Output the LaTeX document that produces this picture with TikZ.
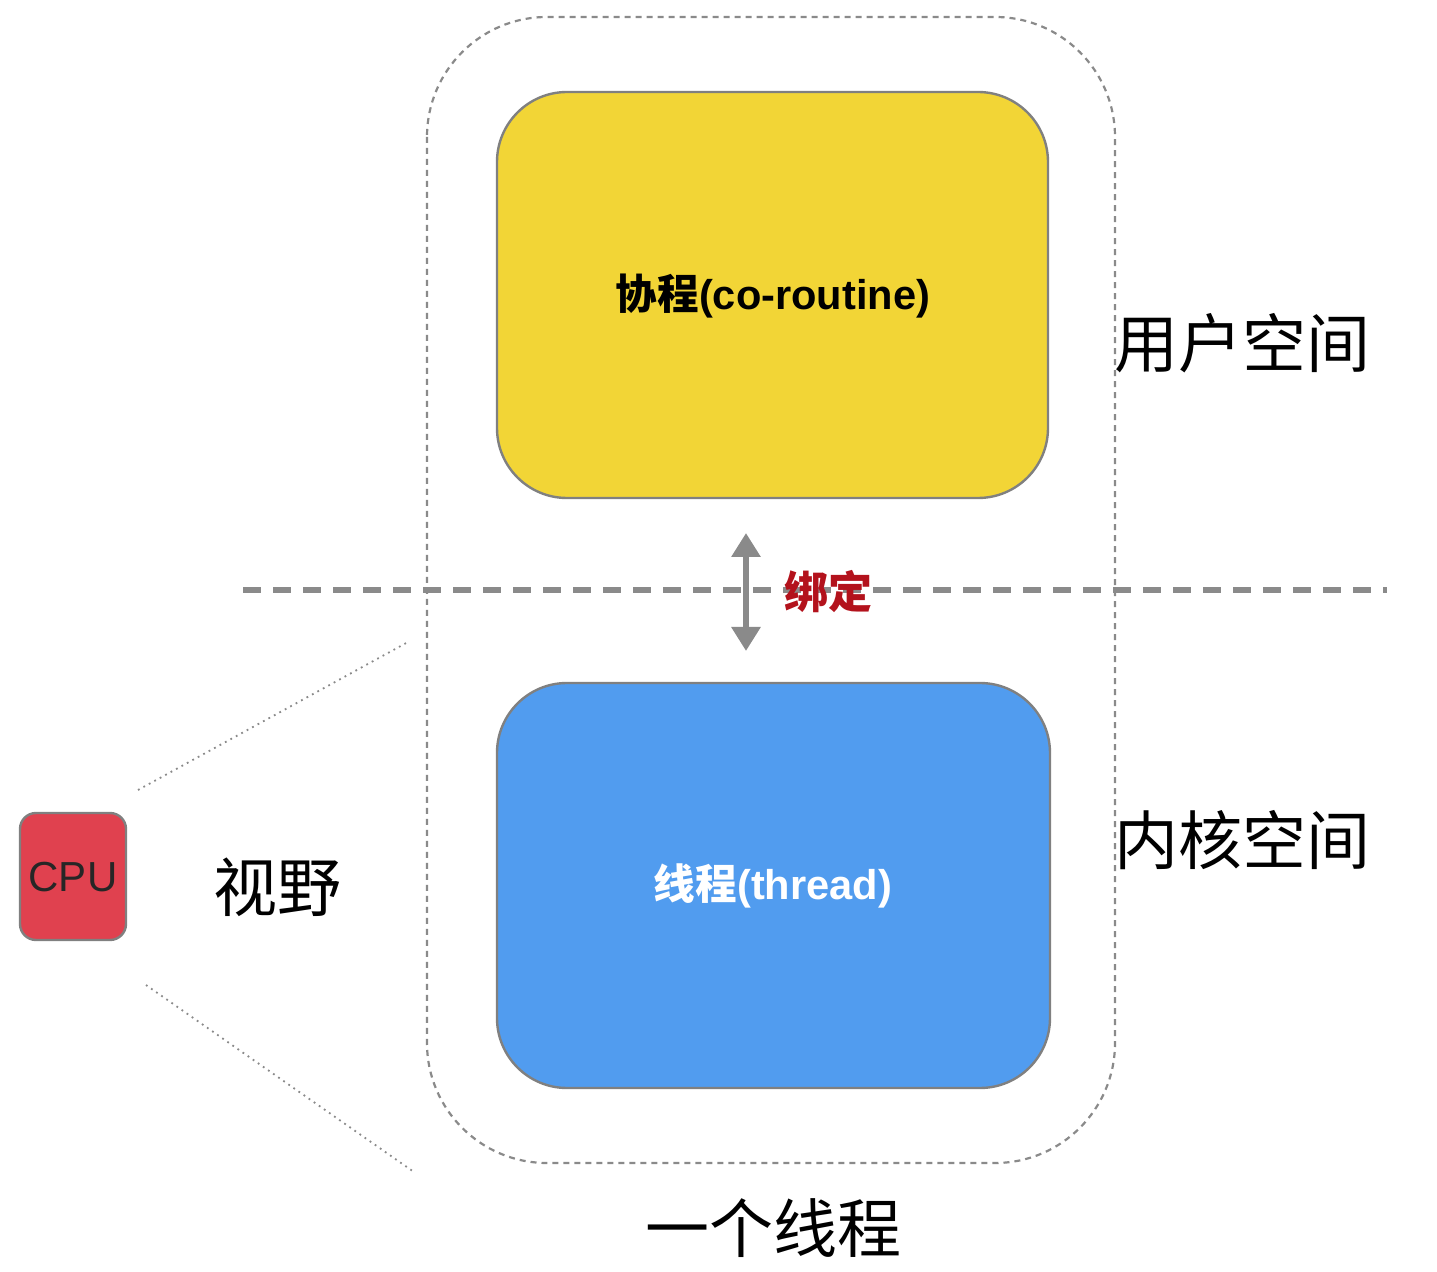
\documentclass[tikz,border=0pt]{standalone}
\usepackage{fontspec}
\setmainfont{Liberation Sans}
\newfontfamily\cjk{Noto Sans CJK SC}
\usetikzlibrary{arrows.meta}
\definecolor{boxyellow}{HTML}{F2D536}
\definecolor{boxblue}{HTML}{519CEF}
\definecolor{cpured}{HTML}{E0414F}
\definecolor{edgegray}{HTML}{808080}
\definecolor{linegray}{HTML}{8A8A8A}
\definecolor{bindred}{HTML}{B3121C}
\tikzset{
  bigbox/.style={draw=edgegray, line width=1.2pt, rounded corners=35pt},
  sidelabel/.style={font=\cjk\fontsize{32}{36}\selectfont, inner sep=0pt},
  boxlabel/.style={font=\bfseries\fontsize{20.8}{24}\selectfont, inner sep=0pt},
}
\begin{document}
\begin{tikzpicture}[x=0.5pt,y=-0.5pt]
\useasboundingbox (0,0) rectangle (1437,1272);
% outer thread boundary
\draw[linegray, line width=1.1pt, dash pattern=on 3pt off 2.5pt, rounded corners=60pt] (427,17) rectangle (1115,1163);
% horizontal divider
\draw[linegray, line width=2.6pt, dash pattern=on 9pt off 6pt] (243,590) -- (1387,590);
% boxes
\draw[bigbox, fill=boxyellow] (497,92) rectangle (1048,498);
\node[boxlabel] (co) at (773,296) {{\cjk\bfseries 协程}(co-routine)};
\draw[bigbox, fill=boxblue] (497,683) rectangle (1050,1088);
\node[boxlabel, text=white] (th) at (773,886) {{\cjk\bfseries 线程}(thread)};
% binding arrow
\coordinate (at) at (746,533);
\coordinate (ab) at (746,651);
\draw[linegray, line width=3pt, {Triangle[width=14pt,length=12pt]}-{Triangle[width=14pt,length=12pt]}] (at) -- (ab);
\node[font=\cjk\fontsize{22}{26}\selectfont, text=bindred, inner sep=0pt] (bind) at (828,592) {\textbf{绑定}};
% side labels
\node[sidelabel] (user) at (1242,343) {用户空间};
\node[sidelabel] (kern) at (1242,840) {内核空间};
\node[sidelabel] (view) at (277,887) {视野};
\node[sidelabel] (one) at (773,1228) {一个线程};
% CPU
\draw[draw=edgegray, line width=1.2pt, fill=cpured, rounded corners=8pt] (20,813) rectangle (126,940);
\node[font=\fontsize{21}{24}\selectfont, text=black!85, inner sep=0pt] (cpu) at (73,877) {CPU};
% view lines
\coordinate (v1a) at (138,790);
\coordinate (v1b) at (408,642);
\coordinate (v2a) at (146,985);
\coordinate (v2b) at (414,1172);
\draw[linegray, line width=0.9pt, dash pattern=on 0.9pt off 2.2pt] (v1a) -- (v1b);
\draw[linegray, line width=0.9pt, dash pattern=on 0.9pt off 2.2pt] (v2a) -- (v2b);
\end{tikzpicture}
\end{document}
